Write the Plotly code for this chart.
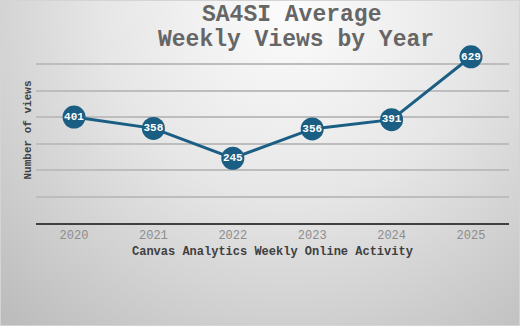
import base64
import plotly.graph_objects as go

years = ["2020", "2021", "2022", "2023", "2024", "2025"]
views = [401, 358, 245, 356, 391, 629]
title_lines = ["SA4SI Average", "Weekly Views by Year"]
x_title = "Canvas Analytics Weekly Online Activity"
y_title = "Number of views"

W, H = 520, 326
L, R, T, B = 36, 11, 38, 103
pw, ph = W - L - R, H - T - B

MONO = "Liberation Mono, Courier New, monospace"
LINE = "#1b5e84"

svg = f'''<svg xmlns="http://www.w3.org/2000/svg" width="{W}" height="{H}" viewBox="0 0 {W} {H}">
<defs><radialGradient id="g" gradientUnits="userSpaceOnUse" cx="290" cy="10" r="420">
<stop offset="0" stop-color="#fcfcfc"/><stop offset="0.45" stop-color="#e6e6e6"/><stop offset="1" stop-color="#bcbcbc"/>
</radialGradient></defs>
<rect x="0" y="0" width="{W}" height="{H}" fill="url(#g)"/>
<rect x="0.5" y="0.5" width="{W-1}" height="{H-1}" fill="none" stroke="#d4d4d4" stroke-width="1"/>
</svg>'''
src = "data:image/svg+xml;base64," + base64.b64encode(svg.encode()).decode()

fig = go.Figure()
fig.add_trace(go.Scatter(
    x=years, y=views, mode="lines+markers+text",
    line=dict(color=LINE, width=3),
    marker=dict(size=23, color=LINE, line=dict(width=0)),
    text=[str(v) for v in views], textposition="middle center",
    textfont=dict(family=MONO, size=11, color="white", weight="bold"),
    hoverinfo="skip", showlegend=False, cliponaxis=False,
))

fig.update_layout(
    width=W, height=H,
    margin=dict(l=L, r=R, t=T, b=B),
    paper_bgcolor="#e0e0e0", plot_bgcolor="rgba(0,0,0,0)",
    images=[dict(source=src, xref="paper", yref="paper",
                 x=-L / pw, y=1 + T / ph, sizex=W / pw, sizey=H / ph,
                 xanchor="left", yanchor="top", sizing="stretch", layer="below")],
    xaxis=dict(type="category", showgrid=False, showline=True, linecolor="#404040",
               linewidth=2, ticks="", tickfont=dict(family=MONO, size=12, color="#8c8c8c"),
               fixedrange=True),
    yaxis=dict(range=[0, 700], dtick=100, showticklabels=False, showgrid=True,
               gridcolor="#bdbdbd", gridwidth=1.5, zeroline=False, ticks="", fixedrange=True),
    annotations=[
        dict(text=title_lines[0], xref="paper", yref="paper", x=(291 - L) / pw,
             y=1 + (T - 15) / ph, xanchor="center", yanchor="middle", showarrow=False,
             font=dict(family=MONO, size=23, color="#666666", weight="bold")),
        dict(text=title_lines[1], xref="paper", yref="paper", x=(296 - L) / pw,
             y=1 + (T - 40) / ph, xanchor="center", yanchor="middle", showarrow=False,
             font=dict(family=MONO, size=23, color="#666666", weight="bold")),
        dict(text=x_title, xref="paper", yref="paper", x=(272 - L) / pw,
             y=-(252 - T - ph) / ph, xanchor="center", yanchor="middle", showarrow=False,
             font=dict(family=MONO, size=12, color="#404040", weight="bold")),
        dict(text=y_title, xref="paper", yref="paper", x=-(L - 27) / pw,
             y=0.5, xanchor="center", yanchor="middle", showarrow=False, textangle=-90,
             font=dict(family=MONO, size=11, color="#404040", weight="bold")),
    ],
)

fig.write_html("out.html", config=dict(displayModeBar=False))
